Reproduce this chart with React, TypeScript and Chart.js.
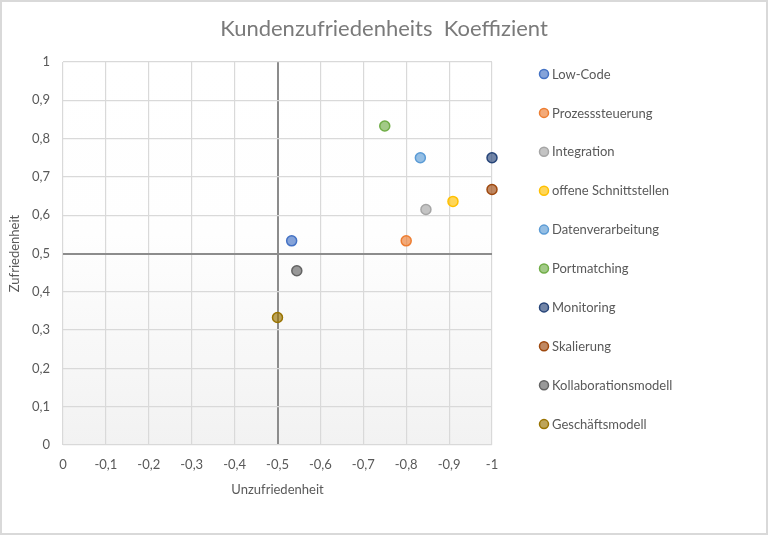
import React, { useEffect, useRef } from "react";
import { Chart, registerables } from "chart.js";

Chart.register(...registerables);

const TITLE = "Kundenzufriedenheits  Koeffizient";
const X_TITLE = "Unzufriedenheit";
const Y_TITLE = "Zufriedenheit";

const categories = [
  "Low-Code",
  "Prozesssteuerung",
  "Integration",
  "offene Schnittstellen",
  "Datenverarbeitung",
  "Portmatching",
  "Monitoring",
  "Skalierung",
  "Kollaborationsmodell",
  "Geschäftsmodell",
];
const xValues = [-0.533, -0.8, -0.846, -0.909, -0.833, -0.75, -1, -1, -0.545, -0.5];
const yValues = [0.533, 0.533, 0.615, 0.636, 0.75, 0.833, 0.75, 0.667, 0.455, 0.333];
const colors = [
  "#4472C4",
  "#ED7D31",
  "#A5A5A5",
  "#FFC000",
  "#5B9BD5",
  "#70AD47",
  "#264478",
  "#9E480E",
  "#636363",
  "#997300",
];

const FONT = "Lato, 'Open Sans', sans-serif";
const TEXT = "#595959";

function hexA(hex: string, a: number) {
  const n = parseInt(hex.slice(1), 16);
  return `rgba(${(n >> 16) & 255},${(n >> 8) & 255},${n & 255},${a})`;
}

function fmt(v: number) {
  const r = Math.round(v * 10) / 10;
  if (Math.abs(r) < 1e-9) return "0";
  if (Math.abs(Math.abs(r) - 1) < 1e-9) return r < 0 ? "-1" : "1";
  return r.toFixed(1).replace(".", ",");
}

const decor = {
  id: "decor",
  beforeDraw(chart: any) {
    const { ctx, chartArea: a } = chart;
    ctx.save();
    ctx.fillStyle = "#ffffff";
    ctx.fillRect(0, 0, chart.width, chart.height);
    const g = ctx.createLinearGradient(0, a.top, 0, a.bottom);
    g.addColorStop(0, "#ffffff");
    g.addColorStop(0.45, "#fefefe");
    g.addColorStop(1, "#f2f2f2");
    ctx.fillStyle = g;
    ctx.fillRect(a.left, a.top, a.right - a.left, a.bottom - a.top);
    ctx.strokeStyle = "#d9d9d9";
    ctx.lineWidth = 2;
    ctx.strokeRect(1, 1, chart.width - 2, chart.height - 2);
    ctx.fillStyle = "#7a7a7a";
    ctx.font = `22px ${FONT}`;
    ctx.textAlign = "center";
    ctx.textBaseline = "middle";
    ctx.fillText(TITLE, chart.width / 2, 29);
    ctx.restore();
  },
  afterDraw(chart: any) {
    const { ctx } = chart;
    ctx.save();
    ctx.font = `13px ${FONT}`;
    ctx.textBaseline = "middle";
    ctx.textAlign = "left";
    chart.data.datasets.forEach((ds: any, i: number) => {
      const y = 74 + i * 38.9;
      const x = 544;
      ctx.beginPath();
      ctx.arc(x, y, 4.5, 0, Math.PI * 2);
      ctx.fillStyle = ds.backgroundColor;
      ctx.fill();
      ctx.lineWidth = 1.5;
      ctx.strokeStyle = ds.borderColor;
      ctx.stroke();
      ctx.fillStyle = TEXT;
      ctx.fillText(ds.label, 552, y + 0.5);
    });
    ctx.restore();
  },
};

export default function App() {
  const ref = useRef<HTMLCanvasElement | null>(null);
  useEffect(() => {
    if (!ref.current) return;
    const datasets = categories.map((c, i) => ({
      label: c,
      data: [{ x: xValues[i], y: yValues[i] }],
      backgroundColor: hexA(colors[i], 0.65),
      borderColor: colors[i],
      borderWidth: 1.5,
      pointRadius: 5,
      clip: false as any,
    }));
    const isHalf = (v: number) => Math.abs(Math.abs(v) - 0.5) < 1e-6;
    const chart = new Chart(ref.current, {
      type: "scatter",
      data: { datasets },
      plugins: [decor],
      options: {
        responsive: false,
        animation: false,
        layout: { padding: { top: 62, right: 276, bottom: 37, left: 0 } },
        plugins: {
          legend: { display: false },
          tooltip: { enabled: false },
          title: { display: false },
        },
        scales: {
          x: {
            type: "linear",
            min: -1,
            max: 0,
            reverse: true,
            afterFit: (s: any) => {
              s.height = 53;
            },
            border: { display: false },
            grid: {
              drawTicks: false,
              color: (c: any) => (c.tick && isHalf(c.tick.value) ? "#8c8c8c" : "#d9d9d9"),
              lineWidth: (c: any) => (c.tick && isHalf(c.tick.value) ? 2 : 1.2),
            },
            ticks: {
              stepSize: 0.1,
              padding: 12,
              color: TEXT,
              font: { family: FONT, size: 13 },
              callback: (v: any) => fmt(Number(v)),
              maxRotation: 0,
              autoSkip: false,
            },
            title: {
              display: true,
              text: X_TITLE,
              color: TEXT,
              font: { family: FONT, size: 13 },
              padding: { top: 0, bottom: 0 },
            },
          },
          y: {
            type: "linear",
            min: 0,
            max: 1,
            afterFit: (s: any) => {
              s.width = 63;
            },
            border: { display: false },
            grid: {
              drawTicks: false,
              color: (c: any) => (c.tick && isHalf(c.tick.value) ? "#8c8c8c" : "#d9d9d9"),
              lineWidth: (c: any) => (c.tick && isHalf(c.tick.value) ? 2 : 1.2),
            },
            ticks: {
              stepSize: 0.1,
              padding: 13,
              color: TEXT,
              font: { family: FONT, size: 13 },
              callback: (v: any) => fmt(Number(v)),
            },
            title: {
              display: true,
              text: Y_TITLE,
              color: TEXT,
              font: { family: FONT, size: 13 },
              padding: { top: 7, bottom: 0 },
            },
          },
        },
      },
    });
    return () => chart.destroy();
  }, []);
  return (
    <div style={{ position: "absolute", left: 0, top: 0, width: 768, height: 535 }}>
      <canvas ref={ref} width={768} height={535} style={{ width: 768, height: 535 }} />
    </div>
  );
}
